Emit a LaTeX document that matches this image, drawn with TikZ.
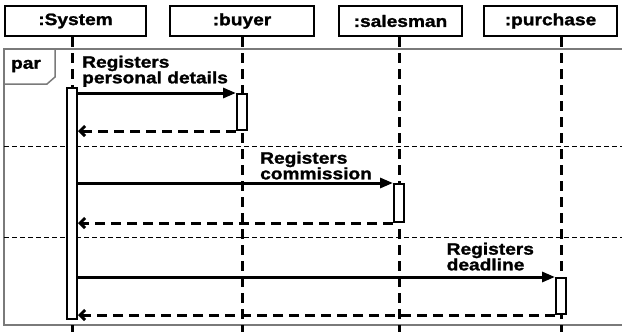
\documentclass[tikz,border=0pt]{standalone}
\usepackage{fontspec}
\setmainfont[FakeStretch=1.16, BoldFeatures={FakeBold=1.4}]{Liberation Sans}
\usepackage{xcolor}
\usepackage{tikz}
\usetikzlibrary{arrows.meta,positioning}

\definecolor{framegray}{HTML}{7A7A7A}

\begin{document}
\begin{tikzpicture}[x=1pt, y=-1pt, font=\fontsize{16.5}{15.7}\selectfont\bfseries]
% Define styles
\tikzstyle{lifebox} = [rectangle, draw=black, line width=2pt, fill=white, minimum height=30pt, inner sep=0pt]
\tikzstyle{activation} = [rectangle, draw=black, line width=2pt, fill=white, minimum width=10pt, inner sep=0pt]
\tikzstyle{lifeline} = [line width=3pt, dash pattern=on 10pt off 6pt]
\tikzstyle{msg} = [line width=3pt, -{Triangle[length=13pt,width=10pt]}]
\tikzstyle{reply} = [line width=3pt, dash pattern=on 10pt off 6pt, -{Straight Barb[length=5pt,width=10pt]}]
\tikzstyle{fragment} = [draw=framegray, line width=1.5pt]
\tikzstyle{divider} = [line width=1pt, dash pattern=on 5pt off 3pt]
\tikzstyle{msglabel} = [anchor=north west, align=left, inner sep=0pt]

\useasboundingbox (0,0) rectangle (622,332);

% Combined fragment
\draw [fragment] (630,49) -- (4,49) -- (4,325) -- (630,325);
\draw [fragment] (4,84) -- (47,84) -- (55,77) -- (55,49);
\node (partag) at (26,66) {par};
\draw [divider] (4,146) -- (622,146);
\draw [divider] (4,237) -- (622,237);

% Define nodes
\node (sysbox) [lifebox, minimum width=141pt] at (75.5,21) {:System};
\node (buybox) [lifebox, minimum width=144pt] at (242,21) {:buyer};
\node (salbox) [lifebox, minimum width=123pt] at (400.5,21) {:salesman};
\node (purbox) [lifebox, minimum width=133pt] at (550.5,21) {:purchase};

\coordinate (sysend) at (72,332);
\coordinate (buyend) at (242,332);
\coordinate (salend) at (399,332);
\coordinate (purend) at (561,332);

% Lifelines
\draw [lifeline] (sysbox.south -| sysend) -- (sysend);
\draw [lifeline] (buybox.south -| buyend) -- (buyend);
\draw [lifeline] (salbox.south -| salend) -- (salend);
\draw [lifeline] (purbox.south -| purend) -- (purend);

\node (sysact) [activation, minimum height=231pt] at (72,203.5) {};
\node (buyact) [activation, minimum height=36pt] at (242,112) {};
\node (salact) [activation, minimum height=38pt] at (399,203) {};
\node (puract) [activation, minimum height=36pt] at (561,296) {};

% Draw arrows
\draw [msg] (sysact.east |- buyact.north) -- (buyact.north west);
\draw [reply] (buyact.south west) -- (sysact.east |- buyact.south);
\draw [msg] (sysact.east |- salact.north) -- (salact.north west);
\draw [reply] (salact.south west) -- (sysact.east |- salact.south);
\draw [msg] (sysact.east |- puract.north) -- (puract.north west);
\draw [reply] (puract.south west) -- (sysact.east |- puract.south);

% Message labels
\node (lbl1) [msglabel] at (82,55.5) {Registers\\personal details};
\node (lbl2) [msglabel] at (260,151.5) {Registers\\commission};
\node (lbl3) [msglabel] at (446.5,242.5) {Registers\\deadline};
\end{tikzpicture}
\end{document}
